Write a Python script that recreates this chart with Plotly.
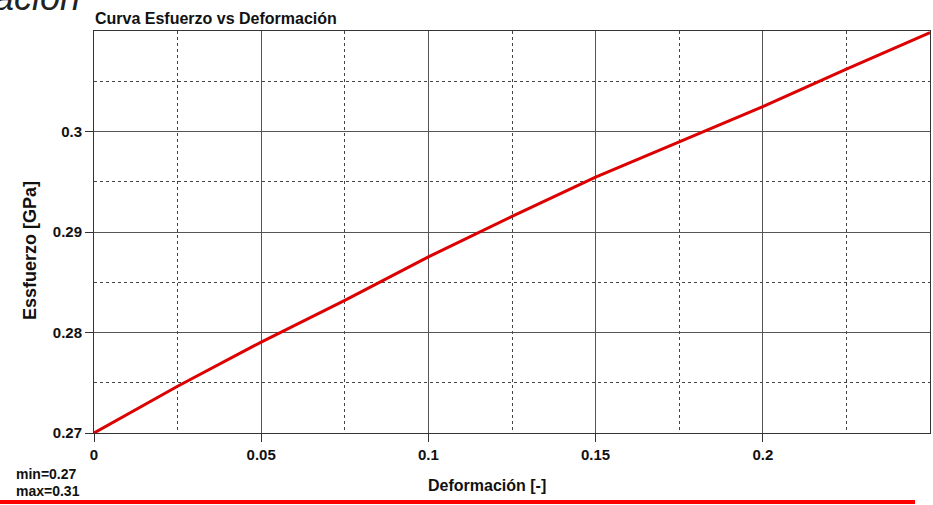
import plotly.graph_objects as go

# Stress-strain data
deformacion = [0.0, 0.025, 0.05, 0.075, 0.1, 0.125, 0.15, 0.175, 0.2, 0.225, 0.25]
esfuerzo = [0.2700, 0.27465, 0.27905, 0.2832, 0.28752, 0.29155, 0.29545, 0.2990, 0.30247, 0.30620, 0.30985]

x_ticks = [0, 0.05, 0.1, 0.15, 0.2]
x_labels = ["0", "0.05", "0.1", "0.15", "0.2"]
y_ticks = [0.27, 0.28, 0.29, 0.30]
y_labels = ["0.27", "0.28", "0.29", "0.3"]

FONT = "Arial, Liberation Sans, sans-serif"
L, R, T, B = 94, 3, 31, 72
W, H = 933, 505
pw, ph = W - L - R, H - T - B


def px_x(p):
    return (p - L) / pw


def px_y(p):
    return (H - B - p) / ph


def bold(labels):
    return [f"<b>{s}</b>" for s in labels]


fig = go.Figure()
fig.add_trace(go.Scatter(
    x=deformacion, y=esfuerzo, mode="lines",
    line=dict(color="#dd0000", width=3),
    hoverinfo="x+y", showlegend=False,
))

grid_minor = dict(showgrid=True, gridcolor="#444444", griddash="3px,3px", gridwidth=1)
axis_common = dict(
    showline=True, linecolor="#333333", linewidth=1, mirror=True,
    showgrid=True, gridcolor="#555555", gridwidth=1,
    ticks="outside", ticklen=8, tickcolor="#333333",
    tickfont=dict(family=FONT, size=15, color="#111111"),
    zeroline=False,
)

fig.update_xaxes(
    range=[0, 0.25], tickvals=x_ticks, ticktext=bold(x_labels),
    minor=dict(dtick=0.025, tick0=0, **grid_minor),
    **axis_common,
)
fig.update_yaxes(
    range=[0.27, 0.31], tickvals=y_ticks, ticktext=bold(y_labels),
    minor=dict(dtick=0.005, tick0=0.27, **grid_minor),
    **axis_common,
)

dark = "#111111"
annotations = [
    dict(text="<b>Curva Esfuerzo vs Deformación</b>", x=px_x(93), y=px_y(18),
         xanchor="left", yanchor="middle", font=dict(family=FONT, size=16, color=dark)),
    dict(text="<b>Deformación [-]</b>", x=px_x(487), y=px_y(485),
         xanchor="center", yanchor="middle", font=dict(family=FONT, size=16, color=dark)),
    dict(text="<b>Essfuerzo [GPa]</b>", x=px_x(30), y=px_y(251), textangle=-90,
         xanchor="center", yanchor="middle", font=dict(family=FONT, size=18, color=dark)),
    dict(text="<b>min=0.27</b>", x=px_x(14), y=px_y(474),
         xanchor="left", yanchor="middle", font=dict(family=FONT, size=14, color=dark)),
    dict(text="<b>max=0.31</b>", x=px_x(14), y=px_y(491),
         xanchor="left", yanchor="middle", font=dict(family=FONT, size=14, color=dark)),
    dict(text="<i>Deformación</i>", x=px_x(82), y=px_y(20),
         xanchor="right", yanchor="bottom",
         font=dict(family=FONT, size=36, color="#222222")),
]
for a in annotations:
    a.update(xref="paper", yref="paper", showarrow=False)
    fig.add_annotation(**a)

# Red rule along the bottom of the page
fig.add_shape(type="line", xref="paper", yref="paper",
              x0=px_x(0), x1=px_x(915), y0=px_y(502), y1=px_y(502),
              line=dict(color="#ff0000", width=4))

fig.update_layout(
    width=W, height=H,
    margin=dict(l=L, r=R, t=T, b=B),
    paper_bgcolor="white", plot_bgcolor="white",
    font=dict(family=FONT),
    showlegend=False,
)

fig.write_html("out.html")
